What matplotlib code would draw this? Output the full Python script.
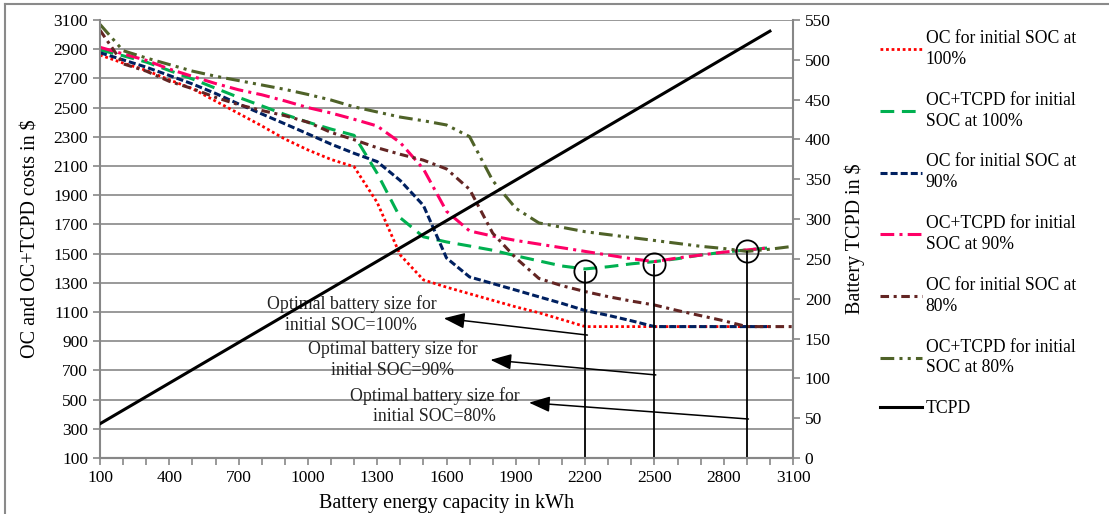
import matplotlib
matplotlib.use('Agg')
import matplotlib.pyplot as plt
from matplotlib.lines import Line2D
from matplotlib.ticker import MultipleLocator

plt.rcParams['font.family'] = ['Liberation Serif', 'DejaVu Serif']

# battery energy capacity in kWh
capacity = [100, 200, 300, 400, 500, 600, 700, 800, 900, 1000,
            1100, 1200, 1300, 1400, 1500, 1600, 1700, 1800, 1900, 2000,
            2100, 2200, 2300, 2400, 2500, 2600, 2700, 2800, 2900, 3000, 3100]

# OC / OC+TCPD costs in $ (left axis)
oc_100 = [2860, 2805, 2755, 2690, 2630, 2545, 2460, 2375, 2285, 2210,
          2145, 2095, 1850, 1490, 1320, 1270, 1225, 1180, 1135, 1095,
          1048, 1000, 1000, 1000, 1000, 1000, 1000, 1000, 1000, 1000]
oc_tcpd_100 = [2895, 2855, 2812, 2754, 2696, 2633, 2570, 2512, 2453, 2400,
               2353, 2310, 2050, 1745, 1615, 1580, 1552, 1523, 1485, 1450,
               1415, 1395, 1410, 1430, 1445, 1465, 1490, 1510, 1525, 1540]
oc_90 = [2876, 2827, 2777, 2720, 2662, 2597, 2525, 2457, 2389, 2320,
         2250, 2187, 2130, 2000, 1830, 1470, 1340, 1295, 1250, 1204,
         1159, 1110, 1077, 1040, 1000, 1000, 1000, 1000, 1000, 1000]
oc_tcpd_90 = [2913, 2868, 2824, 2764, 2714, 2665, 2622, 2588, 2546, 2500,
              2463, 2420, 2374, 2260, 2080, 1790, 1655, 1620, 1590, 1565,
              1540, 1515, 1490, 1465, 1445, 1470, 1490, 1510, 1525, 1540]
oc_80 = [3030, 2800, 2750, 2680, 2630, 2570, 2520, 2480, 2445, 2400,
         2330, 2280, 2225, 2180, 2140, 2080, 1940, 1640, 1470, 1330,
         1280, 1240, 1205, 1175, 1148, 1110, 1075, 1040, 1000, 1000, 1000]
oc_tcpd_80 = [3070, 2890, 2840, 2795, 2750, 2715, 2685, 2655, 2625, 2590,
              2552, 2505, 2470, 2435, 2410, 2381, 2301, 2000, 1810, 1710,
              1680, 1650, 1630, 1610, 1590, 1570, 1550, 1535, 1515, 1530, 1550]

# battery TCPD in $ (right axis)
tcpd = [43, 60, 77, 94, 111, 128, 145, 162, 179, 196,
        213, 230, 247, 264, 281, 298, 315, 332, 349, 366,
        383, 400, 417, 434, 451, 468, 485, 502, 519, 536]

# circled optima
opt_size = [2200, 2500, 2900]
opt_cost = [1383, 1429, 1518]
opt_text = ['Optimal battery size for\ninitial SOC=100%',
            'Optimal battery size for\ninitial SOC=90%',
            'Optimal battery size for\ninitial SOC=80%']

GRID = '#878787'
FS = 12.5

fig = plt.figure(figsize=(11.09, 5.14), dpi=100)
ax = fig.add_axes([100/1109, 56/514, 693/1109, 438/514])
ax2 = ax.twinx()

series = [
    (oc_100, 'OC for initial SOC at\n100%', '#FF0000', (0, (1, 1)), 2.0),
    (oc_tcpd_100, 'OC+TCPD for initial\nSOC at 100%', '#00B050', (0, (4.5, 2.5)), 2.2),
    (oc_90, 'OC for initial SOC at\n90%', '#002060', (0, (2.3, 1)), 2.2),
    (oc_tcpd_90, 'OC+TCPD for initial\nSOC at 90%', '#FF0066', (0, (4.5, 1.7, 1, 1.7)), 2.2),
    (oc_80, 'OC for initial SOC at\n80%', '#632523', (0, (2.8, 1.5, 1, 1.5)), 2.2),
    (oc_tcpd_80, 'OC+TCPD for initial\nSOC at 80%', '#4F6228', (0, (4.5, 1.7, 1, 1.7, 1, 1.7)), 2.2),
]
for vals, lab, col, ls, lw in series:
    ax.plot(capacity[:len(vals)], vals, color=col, ls=ls, lw=lw, label=lab)

ax2.plot(capacity[:len(tcpd)], tcpd, color='black', lw=2.2, label='TCPD')

# optimum markers, drop lines and arrows
ax.plot(opt_size, opt_cost, 'o', mfc='none', mec='black', ms=16, mew=1.3, zorder=5)
ax.vlines(opt_size, 100, opt_cost, color='black', lw=1.3, zorder=5)
arrow_tail = [(2210, 942), (2506, 669), (2907, 367)]
arrow_head = [(1588, 1057), (1790, 772), (1957, 479)]
text_pos = [(1188, 1082), (1368, 773), (1548, 456)]
for txt, tail, head, pos in zip(opt_text, arrow_tail, arrow_head, text_pos):
    ax.annotate('', xy=head, xytext=tail,
                arrowprops=dict(arrowstyle='-|>,head_length=0.8,head_width=0.3',
                                color='black', lw=1.1, mutation_scale=16,
                                shrinkA=0, shrinkB=0), zorder=5)
    ax.text(pos[0], pos[1], txt, ha='center', va='center', fontsize=12.8,
            linespacing=1.3, color='#222222', zorder=5)

# axes
ax.set_xlim(100, 3100)
ax.set_ylim(100, 3100)
ax2.set_ylim(0, 550)
ax.set_xticks(range(100, 3101, 300))
ax.xaxis.set_minor_locator(MultipleLocator(100))
ax.set_yticks(range(100, 3101, 200))
ax2.set_yticks(range(0, 551, 50))
ax.yaxis.grid(True, color=GRID, lw=1.2)
ax.set_axisbelow(True)

for a in (ax, ax2):
    a.spines['top'].set_visible(False)
    for s in ('left', 'right', 'bottom'):
        a.spines[s].set_color(GRID)
        a.spines[s].set_linewidth(1.5)
    a.tick_params(which='both', direction='out', length=5, width=1.2,
                  color=GRID, labelsize=FS)
ax2.spines['left'].set_visible(False)
ax.spines['right'].set_visible(False)

ax.set_xlabel('Battery energy capacity in kWh', fontsize=14.5, labelpad=6)
ax.set_ylabel('OC and OC+TCPD costs in $', fontsize=14.5, labelpad=9)
ax2.set_ylabel('Battery TCPD in $', fontsize=14.5, labelpad=10)

handles = ax.get_legend_handles_labels()[0] + ax2.get_legend_handles_labels()[0]
leg = fig.legend(handles=handles, loc='upper left', bbox_to_anchor=(880/1109, 1 - 30/514),
                 frameon=False, fontsize=12.7, handlelength=2.4, handletextpad=0.2,
                 labelspacing=1.35, borderpad=0, borderaxespad=0)
for t in leg.get_texts():
    t.set_linespacing(1.3)

# outer chart border
fig.add_artist(Line2D([5/1109, 1], [1 - 4/514, 1 - 4/514], transform=fig.transFigure,
                      color='#8a8a8a', lw=1.5))
fig.add_artist(Line2D([5/1109, 5/1109], [0, 1 - 4/514], transform=fig.transFigure,
                      color='#8a8a8a', lw=1.5))

fig.savefig('out.png', dpi=100)
